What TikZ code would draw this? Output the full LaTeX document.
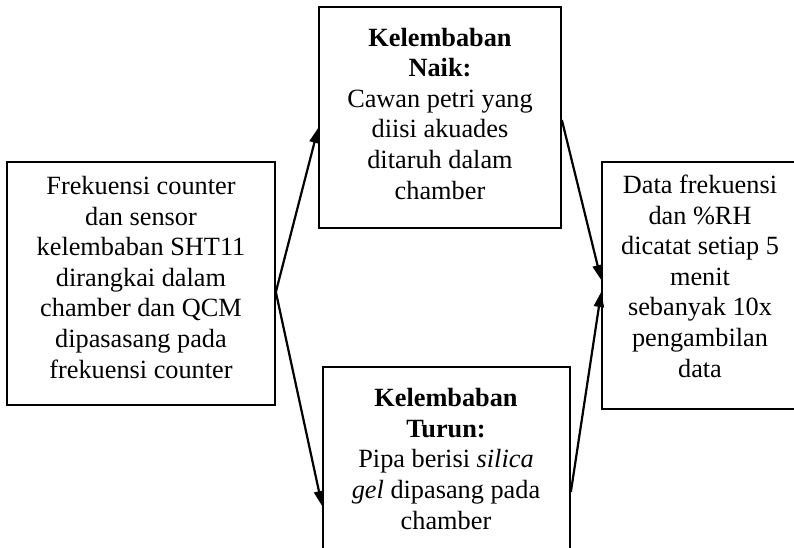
\documentclass[tikz,border=0pt]{standalone}
\usepackage{fontspec}
\setmainfont{Liberation Serif}
\usetikzlibrary{arrows.meta}
\begin{document}
\begin{tikzpicture}[x=1pt,y=-1pt,
  box/.style={draw, line width=1.7pt, inner sep=0pt},
  txt/.style={align=center, inner sep=0pt, anchor=base, font=\fontsize{26.3}{30.6}\selectfont},
  conn/.style={line width=2.2pt, -{Triangle[length=15pt,width=10pt]}}]
\useasboundingbox (0,0) rectangle (794,547);
\clip (0,0) rectangle (794,547);
% boxes
\node[box, minimum width=268pt, minimum height=243pt] (L) at (141,283.5) {};
\node[box, minimum width=242pt, minimum height=221pt] (T) at (440,117.5) {};
\node[box, minimum width=198pt, minimum height=247pt] (R) at (701,285.5) {};
\node[box, minimum width=247pt, minimum height=203pt] (B) at (446.5,468.5) {};
% texts (anchor base = baseline of last line)
\node[txt] (Lt) at (141,378) {Frekuensi counter\\dan sensor\\kelembaban SHT11\\dirangkai dalam\\chamber dan QCM\\dipasasang pada\\frekuensi counter};
\node[txt] (Tt) at (440,199) {\textbf{Kelembaban}\\\textbf{Naik:}\\Cawan petri yang\\diisi akuades\\ditaruh dalam\\chamber};
\node[txt] (Rt) at (700,377) {Data frekuensi\\dan \%RH\\dicatat setiap 5\\menit\\sebanyak 10x\\pengambilan\\data};
\node[txt] (Bt) at (446,529) {\textbf{Kelembaban}\\\textbf{Turun:}\\Pipa berisi \textit{silica}\\\textit{gel} dipasang pada\\chamber};
% connectors
\draw[conn] ([yshift=-8.5pt]L.east) -- ([yshift=-10.5pt]T.west);
\draw[conn] ([yshift=-8.5pt]L.east) -- ([yshift=-37.5pt]B.west);
\draw[conn] ([yshift=-2.5pt]T.east) -- ([yshift=5.5pt]R.west);
\draw[conn] ([yshift=-23.5pt]B.east) -- ([yshift=-6.5pt]R.west);
\end{tikzpicture}
\end{document}
